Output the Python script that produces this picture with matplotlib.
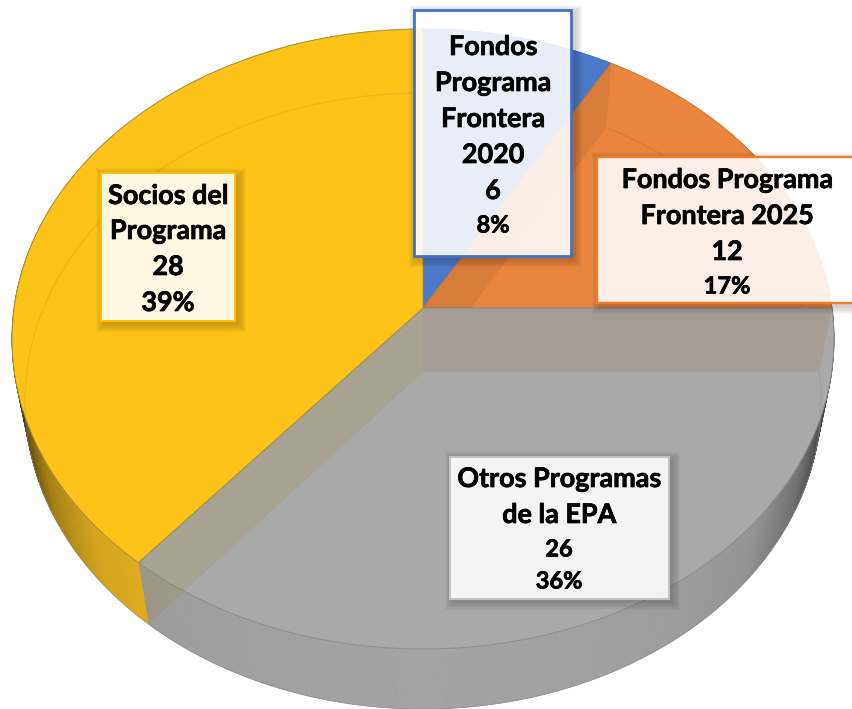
import numpy as np
import matplotlib
matplotlib.use("Agg")
import matplotlib.pyplot as plt
import matplotlib.patheffects as pe
from matplotlib.patches import Polygon, Rectangle, PathPatch
from matplotlib.path import Path
from matplotlib.collections import PolyCollection
from matplotlib.colors import to_rgb

# ---- data ----
categories = ["Fondos Programa Frontera 2020", "Fondos Programa Frontera 2025",
              "Otros Programas de la EPA", "Socios del Programa"]
values = [6, 12, 26, 28]
label_lines = [["Fondos", "Programa", "Frontera", "2020"],
               ["Fondos Programa", "Frontera 2025"],
               ["Otros Programas", "de la EPA"],
               ["Socios del", "Programa"]]

# ---- style ----
face_colors = ["#4B7AC6", "#E8863F", "#A9A9A9", "#FDC318"]
wall_colors = ["#4472C4", "#D9792F", "#A3A3A3", "#EDB61E"]
edge_colors = ["#4472C4", "#D9792F", "#8C8C8C", "#A5923F"]
box_edges = ["#4472C4", "#ED7D31", "#C4C4C4", "#FFC000"]
box_lw = [2.0, 1.7, 1.4, 1.4]
boxes = [(414, 10, 571, 256), (597, 157, 870, 303), (450, 457, 669, 599), (101, 173, 235, 321)]
text_cx = [493, 727, 559, 168]
text_y = [[47, 83, 119, 155, 191, 225], [180, 216, 252, 286], [479, 515, 549, 581], [196, 231, 267, 303]]
text_fs = [[19.4, 19.4, 19.4, 19.4, 19.4, 17], [19.4, 19.4, 19.4, 17],
           [19.4, 19.4, 17, 17], [19.4, 19.4, 19.4, 19.4]]

TOP = dict(cx=423, cy=339, a=411, b=310, c=0.10)
BOT = dict(cx=423, cy=401, a=398, b=308, c=0.094)


def project(theta_deg, g):
    t = np.radians(np.asarray(theta_deg, dtype=float))
    x, y = np.sin(t), np.cos(t)
    d = 1 + g["c"] * y
    xp = x * np.sqrt(1 - g["c"] ** 2) / d
    yp = (y + g["c"]) / d
    return np.column_stack([g["cx"] + g["a"] * xp, g["cy"] - g["b"] * yp])


def apex(g):
    return np.array([g["cx"], g["cy"] - g["b"] * g["c"]])


fig = plt.figure(figsize=(8.53, 7.09), dpi=100)
ax = fig.add_axes([0, 0, 1, 1])
ax.set_xlim(0, 853)
ax.set_ylim(709, 0)
ax.axis("off")

total = sum(values)
bounds = np.concatenate([[0], np.cumsum(values)]) / total * 360

# outer walls, shaded towards the silhouette
for i in range(len(values)):
    th = np.linspace(bounds[i], bounds[i + 1], max(int(bounds[i + 1] - bounds[i]) * 3, 2) + 1)
    t, b = project(th, TOP), project(th, BOT)
    polys, cols = [], []
    base = np.array(to_rgb(wall_colors[i]))
    for k in range(len(th) - 1):
        polys.append([t[k], t[k + 1], b[k + 1], b[k]])
        u = abs(b[k, 0] - BOT["cx"]) / BOT["a"]
        f = np.interp(u, [0, .6, .8, .92, .98, 1.0], [1, .97, .9, .70, .45, .33])
        cols.append(tuple(base * f))
    ax.add_collection(PolyCollection(polys, facecolors=cols, edgecolors=cols, linewidths=.5, zorder=1))
    ax.plot(b[:, 0], b[:, 1], color="#8A8A8A", lw=.6, zorder=1.5, alpha=.7)

# top faces
faces = []
for i in range(len(values)):
    th = np.linspace(bounds[i], bounds[i + 1], 200)
    verts = np.vstack([apex(TOP), project(th, TOP)])
    p = Polygon(verts, closed=True, facecolor=face_colors[i], edgecolor=edge_colors[i], lw=.7, zorder=2)
    ax.add_patch(p)
    faces.append(p)


def wall_quad(theta):
    return [apex(TOP), project([theta], TOP)[0], project([theta], BOT)[0], apex(BOT)]


# inner walls seen through the translucent slices
ax.add_patch(Polygon(wall_quad(bounds[3]), closed=True, facecolor="#A48636", alpha=.2, lw=0, zorder=3))
ax.add_patch(Polygon(wall_quad(bounds[2]), closed=True, facecolor="#956D4A", alpha=.2, lw=0, zorder=3))
q = Polygon(wall_quad(bounds[1]), closed=True, facecolor="black", alpha=.07, lw=0, zorder=3)
ax.add_patch(q)
q.set_clip_path(faces[1])

# bottom rim seen through the faces
for i, col, lw in [(3, "#EDB31A", .9), (1, "#DD7A34", .9), (2, "#A0A0A0", .8)]:
    th = np.linspace(bounds[i], bounds[i + 1], 200)
    r = project(th, BOT)
    ln, = ax.plot(r[:, 0], r[:, 1], color=col, lw=lw, zorder=3)
    ln.set_clip_path(faces[i])


def shadow(x0, y0, x1, y1):
    inner = Path([(x0, y0), (x0, y1), (x1, y1), (x1, y0), (x0, y0)], closed=True)
    for s in range(1, 8):
        d = s * 1.2
        ox0, oy0, ox1, oy1 = x0 + 3 - d, y0 + 3 - d, x1 + 3 + d, y1 + 3 + d
        outer = Path([(ox0, oy0), (ox1, oy0), (ox1, oy1), (ox0, oy1), (ox0, oy0)], closed=True)
        ax.add_patch(PathPatch(Path.make_compound_path(outer, inner), facecolor="black",
                               alpha=.028, lw=0, zorder=4))


# data labels
for i in range(len(values)):
    x0, y0, x1, y1 = boxes[i]
    shadow(x0, y0, x1, y1)
    ax.add_patch(Rectangle((x0, y0), x1 - x0, y1 - y0, facecolor=(1, 1, 1, .88),
                           edgecolor=box_edges[i], lw=box_lw[i], zorder=5))
    lines = label_lines[i] + [str(values[i]), f"{round(100 * values[i] / total)}%"]
    for s, y, fs in zip(lines, text_y[i], text_fs[i]):
        ax.text(text_cx[i], y, s, ha="center", va="center", fontsize=fs, fontweight="bold",
                family="Lato", color="black", zorder=6,
                path_effects=[pe.withStroke(linewidth=.5, foreground="black")])

fig.savefig("out.png", dpi=100, facecolor="white")
